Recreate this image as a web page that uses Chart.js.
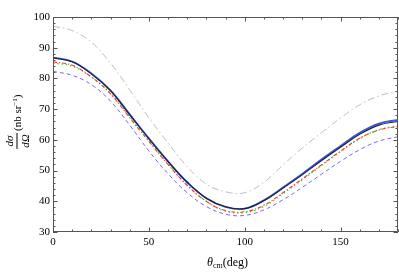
<!DOCTYPE html>
<html>
<head>
<meta charset="utf-8">
<script src="https://cdn.jsdelivr.net/npm/chart.js@4"></script>
<style>
html,body{margin:0;padding:0;background:#fff;}
#wrap{width:399px;height:276px;position:relative;}
</style>
</head>
<body>
<div id="wrap"><canvas id="c" width="399" height="276"></canvas></div>
<script>
// Angles (deg)
const angles = [0,10,20,30,40,50,60,70,80,90,100,110,120,130,140,150,160,170,180];
// Series values (nb sr^-1)
const graySeries   = [97.0,95.6,91.8,85.0,76.3,67.2,59.0,51.3,45.6,43.1,42.8,46.2,51.8,57.3,62.3,67.1,71.4,74.3,75.8];
const blackSeries  = [86.7,85.4,81.5,76.0,68.2,60.4,53.0,46.2,41.0,38.2,37.6,40.2,44.3,48.6,53.2,57.6,61.8,64.8,66.0];
const blueSeries   = [86.8,85.5,81.6,76.1,68.3,60.5,53.0,46.2,41.0,38.2,37.6,40.3,44.5,48.9,53.6,58.0,62.3,65.3,66.5];
const redSeries    = [85.4,84.3,80.5,75.0,67.2,59.5,52.0,45.2,40.0,37.0,36.6,38.7,42.8,47.3,51.8,56.3,60.5,63.2,64.4];
const greenSeries  = [85.0,84.0,80.4,75.2,67.5,59.8,52.2,45.3,40.0,36.8,36.3,38.3,42.5,47.0,51.6,56.2,60.4,63.3,64.6];
const purpleSeries = [82.3,81.0,78.0,72.6,64.8,56.4,49.0,42.8,38.3,35.8,35.4,37.2,40.5,44.5,48.8,53.0,56.8,59.6,61.0];
// Tick labels
const xTickValues = [0,50,100,150];
const yTickValues = [30,40,50,60,70,80,90,100];

const pts = arr => angles.map((a,i)=>({x:a,y:arr[i]}));
const SERIF = '"Liberation Serif","DejaVu Serif",serif';

const framePlugin = {
  id:'frame',
  afterDatasetsDraw(chart){
    const ctx = chart.ctx;
    const {left,right,top,bottom} = chart.chartArea;
    const xs = chart.scales.x, ys = chart.scales.y;
    ctx.save();
    ctx.strokeStyle = '#555';
    ctx.lineWidth = 1;
    ctx.beginPath();
    ctx.rect(Math.round(left)+0.5, Math.round(top)+0.5, Math.round(right-left)-1, Math.round(bottom-top)-1);
    ctx.stroke();
    ctx.beginPath();
    for(let v=0; v<=180; v+=10){
      const px = Math.round(xs.getPixelForValue(v))+0.5;
      const len = (v%50===0)?4.5:2.5;
      ctx.moveTo(px,bottom); ctx.lineTo(px,bottom-len);
      ctx.moveTo(px,top); ctx.lineTo(px,top+len);
    }
    for(let v=30; v<=100; v+=2){
      const py = Math.round(ys.getPixelForValue(v))+0.5;
      const len = (v%10===0)?4.5:2.5;
      ctx.moveTo(left,py); ctx.lineTo(left+len,py);
      ctx.moveTo(right,py); ctx.lineTo(right-len,py);
    }
    ctx.stroke();
    ctx.restore();
  },
  afterDraw(chart){
    const ctx = chart.ctx;
    ctx.save();
    ctx.fillStyle = '#000';
    // X title: θcm(deg)
    const cx = (chart.chartArea.left+chart.chartArea.right)/2 + 2;
    const base = 266;
    ctx.textBaseline = 'alphabetic';
    ctx.font = 'italic 12px '+SERIF;
    const w1 = ctx.measureText('θ').width;
    ctx.font = '8px '+SERIF;
    const w2 = ctx.measureText('cm').width;
    ctx.font = '12px '+SERIF;
    const w3 = ctx.measureText('(deg)').width;
    let x0 = cx - (w1+w2+w3)/2;
    ctx.font = 'italic 12px '+SERIF; ctx.textAlign='left';
    ctx.fillText('θ', x0, base);
    ctx.font = '8px '+SERIF;
    ctx.fillText('cm', x0+w1, base+2);
    ctx.font = '12px '+SERIF;
    ctx.fillText('(deg)', x0+w1+w2, base);

    // Y title: dσ/dΩ (nb sr^-1), rotated
    ctx.translate(17, 125);
    ctx.rotate(-Math.PI/2);
    ctx.textAlign = 'center';
    ctx.font = 'italic 11px '+SERIF;
    const fracC = -16;
    ctx.fillText('dσ', fracC, -4);
    ctx.fillText('dΩ', fracC, 12);
    ctx.fillRect(fracC-8, -0.5, 16, 1);
    ctx.textAlign = 'left';
    ctx.font = '11px '+SERIF;
    let tx = -6;
    ctx.fillText('(nb sr', tx, 4);
    tx += ctx.measureText('(nb sr').width;
    ctx.font = '7px '+SERIF;
    ctx.fillText('−1', tx, -0.5);
    tx += ctx.measureText('−1').width;
    ctx.font = '11px '+SERIF;
    ctx.fillText(')', tx, 4);
    ctx.restore();
  }
};

const ds = (label, arr, color, width, dash, order) => ({
  label, data: pts(arr), borderColor: color, backgroundColor: color,
  borderWidth: width, borderDash: dash, pointRadius: 0, fill: false,
  tension: 0.4, order
});

new Chart(document.getElementById('c'), {
  type: 'line',
  data: {
    datasets: [
      ds('gray', graySeries, '#b8c0c0', 1, [7,3,1.5,3], 5),
      ds('purple', purpleSeries, '#7a66f2', 1, [4,3], 4),
      ds('green', greenSeries, '#48c048', 1.3, [1.3,3], 3),
      ds('red', redSeries, '#e8402c', 1.1, [4,2,1.2,2], 2),
      ds('blue', blueSeries, '#3a58e6', 1.8, [], 1),
      ds('black', blackSeries, '#222222', 1.1, [], 0)
    ]
  },
  options: {
    responsive: false,
    animation: false,
    devicePixelRatio: 1,
    layout: { padding: { top: 17, right: 1, left: 0, bottom: 0 } },
    plugins: { legend: { display: false }, tooltip: { enabled: false } },
    scales: {
      x: {
        type: 'linear', min: 0, max: 180,
        grid: { display: false, drawTicks: false },
        border: { display: false },
        afterBuildTicks: s => { s.ticks = xTickValues.map(v=>({value:v})); },
        afterFit: s => { s.height = 44; },
        ticks: { color: '#000', font: { family: SERIF, size: 11 }, padding: 4, maxRotation: 0, autoSkip: false }
      },
      y: {
        type: 'linear', min: 30, max: 100,
        grid: { display: false, drawTicks: false },
        border: { display: false },
        afterBuildTicks: s => { s.ticks = yTickValues.map(v=>({value:v})); },
        afterFit: s => { s.width = 53; },
        ticks: { color: '#000', font: { family: SERIF, size: 11 }, padding: 3, autoSkip: false }
      }
    }
  },
  plugins: [framePlugin]
});
</script>
</body>
</html>
